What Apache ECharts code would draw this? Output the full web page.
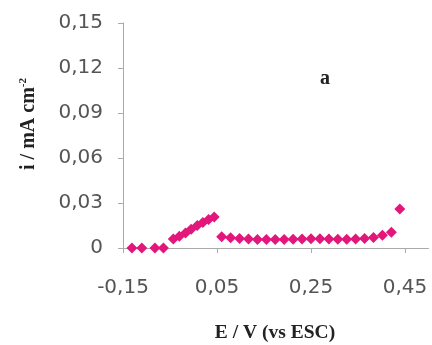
<!DOCTYPE html>
<html><head><meta charset="utf-8">
<script src="https://cdn.jsdelivr.net/npm/echarts@6/dist/echarts.min.js"></script>
<style>html,body{margin:0;padding:0;background:#fff}#c{width:432px;height:345px}</style>
</head><body><div id="c"></div>
<script>
var potentials = [-0.131, -0.110, -0.082, -0.064,
  -0.043, -0.030, -0.017, -0.005, 0.008, 0.020, 0.032, 0.044,
  0.060, 0.079, 0.098, 0.117, 0.136, 0.155, 0.174, 0.193, 0.212, 0.231,
  0.250, 0.269, 0.288, 0.307, 0.326, 0.345, 0.364, 0.383, 0.402, 0.421,
  0.439];
var currents = [0.0000, 0.0000, 0.0000, 0.0000,
  0.0060, 0.0078, 0.0100, 0.0125, 0.0150, 0.0170, 0.0190, 0.0207,
  0.0075, 0.0068, 0.0063, 0.0060, 0.0057, 0.0056, 0.0056, 0.0057, 0.0058, 0.0060,
  0.0062, 0.0062, 0.0060, 0.0058, 0.0058, 0.0060, 0.0063, 0.0070, 0.0085, 0.0105,
  0.0260];
var xTicks = [-0.15, 0.05, 0.25, 0.45];
var yTicks = [0, 0.03, 0.06, 0.09, 0.12, 0.15];

var data = potentials.map(function(e, k){ return [e, currents[k]]; });
function fmt(v){ return v === 0 ? '0' : v.toFixed(2).replace('.', ','); }

var chart = echarts.init(document.getElementById('c'), null, {renderer:'canvas'});
chart.setOption({
  animation: false,
  backgroundColor: '#fff',
  grid: {left: 123, right: 3.5, top: 23, bottom: 97, containLabel: false},
  xAxis: {
    type: 'value', min: -0.15, max: 0.5, interval: 0.2,
    axisLine: {show: true, onZero: false, lineStyle: {color: '#aaaaaa', width: 1}},
    axisTick: {show: true, length: 5, customValues: xTicks, lineStyle: {color: '#aaaaaa'}},
    axisLabel: {customValues: xTicks, margin: 30, color: '#555', fontFamily: 'DejaVu Sans', fontSize: 20,
      formatter: function(v){ return fmt(v); }},
    splitLine: {show: false}
  },
  yAxis: {
    type: 'value', min: 0, max: 0.15, interval: 0.03,
    axisLine: {show: true, onZero: false, lineStyle: {color: '#aaaaaa', width: 1}},
    axisTick: {show: true, length: 5, customValues: yTicks, lineStyle: {color: '#aaaaaa'}},
    axisLabel: {customValues: yTicks, margin: 20, color: '#555', fontFamily: 'DejaVu Sans', fontSize: 20,
      formatter: function(v){ return fmt(v); }},
    splitLine: {show: false}
  },
  graphic: [
    {type: 'text', x: 29, y: 124, rotation: Math.PI/2,
      style: {text: 'i / mA cm{sup|-2}', align: 'center', verticalAlign: 'middle',
        font: 'bold 20px "Liberation Serif"', fill: '#222',
        rich: {sup: {font: 'bold 11px "Liberation Serif"', fill: '#222', padding: [0,0,12,0]}}}},
    {type: 'text', x: 275, y: 333,
      style: {text: 'E / V (vs ESC)', align: 'center', verticalAlign: 'middle',
        font: 'bold 19.5px "Liberation Serif"', fill: '#222'}},
    {type: 'text', x: 325, y: 79,
      style: {text: 'a', align: 'center', verticalAlign: 'middle',
        font: 'bold 20px "Liberation Serif"', fill: '#222'}}
  ],
  series: [{
    type: 'scatter', data: data, symbol: 'diamond', symbolSize: 11,
    itemStyle: {color: '#e3167c', opacity: 1}
  }]
});
</script></body></html>
